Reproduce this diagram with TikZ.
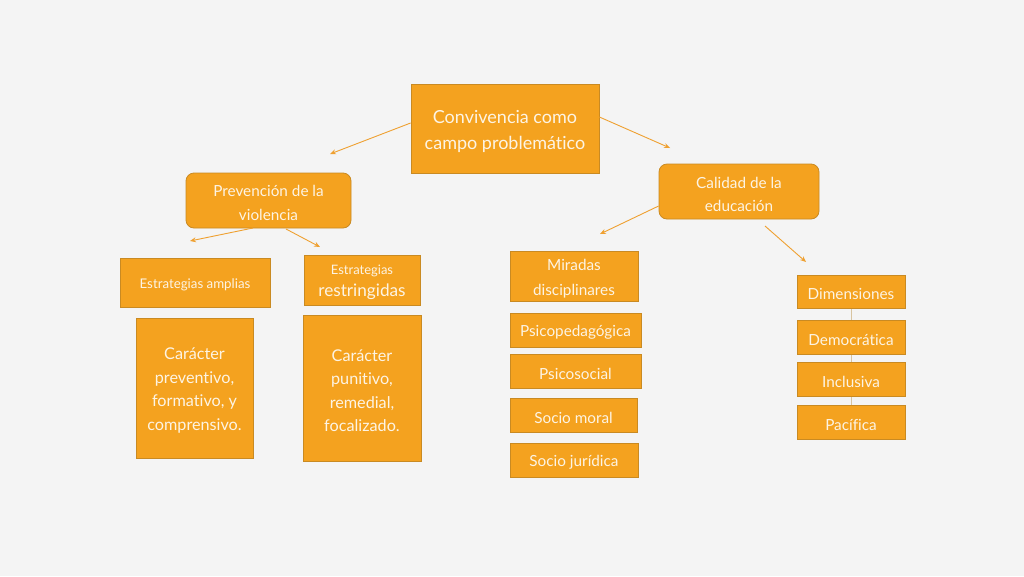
\documentclass[tikz,border=0pt]{standalone}
\usepackage{fontspec}
\setmainfont{Lato}[Ligatures={NoCommon}]
\usetikzlibrary{arrows.meta}
\definecolor{bgc}{HTML}{F4F4F4}
\definecolor{boxfill}{HTML}{F4A21F}
\definecolor{boxline}{HTML}{C98A22}
\definecolor{txt}{HTML}{FDF4E4}
\definecolor{arr}{HTML}{EFA030}
\definecolor{thinline}{HTML}{D8C4A0}
\begin{document}
\begin{tikzpicture}[x=1pt,y=-1pt,
  box/.style={draw=boxline, fill=boxfill, line width=0.8pt, inner sep=0pt, anchor=center},
  rbox/.style={box, rounded corners=8pt},
  lbl/.style={text=txt, inner sep=0pt, align=center, anchor=center, yshift=-2.5pt},
  conn/.style={draw=arr, line width=0.9pt, -{Stealth[length=6pt,width=5pt]}},
  link/.style={draw=thinline, line width=0.6pt}
]
\fill[bgc] (0,0) rectangle (1024,576);
\useasboundingbox (0,0) rectangle (1024,576);

% boxes
\node[box, minimum width=188pt, minimum height=89pt] (top) at (505,128.5) {};
\node[rbox, minimum width=165pt, minimum height=55pt] (prev) at (268.5,200.5) {};
\node[rbox, minimum width=160pt, minimum height=55pt] (cal) at (739,191.5) {};
\node[box, minimum width=150pt, minimum height=49pt] (amp) at (195,282.5) {};
\node[box, minimum width=116pt, minimum height=50pt] (res) at (362,280) {};
\node[box, minimum width=117pt, minimum height=140pt] (car1) at (194.5,388) {};
\node[box, minimum width=118pt, minimum height=146pt] (car2) at (362,388) {};
\node[box, minimum width=128pt, minimum height=50pt] (mir) at (574,276) {};
\node[box, minimum width=131pt, minimum height=34pt] (psp) at (575.5,330) {};
\node[box, minimum width=131pt, minimum height=34pt] (pss) at (575.5,371) {};
\node[box, minimum width=127pt, minimum height=34pt] (smo) at (573.5,415) {};
\node[box, minimum width=128pt, minimum height=34pt] (sju) at (574,460) {};

\draw[link] (851,308) -- (851,320);
\draw[link] (851,354) -- (851,362);
\draw[link] (851,396) -- (851,405);

\node[box, minimum width=108pt, minimum height=33pt] (dim) at (851,291.5) {};
\node[box, minimum width=108pt, minimum height=34pt] (dem) at (851,337) {};
\node[box, minimum width=108pt, minimum height=34pt] (inc) at (851,379) {};
\node[box, minimum width=108pt, minimum height=34pt] (pac) at (851,422) {};

% texts
\node[lbl, font=\fontsize{18}{26}\selectfont] (topt) at (top.center) {Convivencia como\\campo problemático};
\node[lbl, font=\fontsize{15.3}{24}\selectfont] (prevt) at (prev.center) {Prevención de la\\violencia};
\node[lbl, font=\fontsize{15.3}{23}\selectfont] (calt) at (cal.center) {Calidad de la\\educación};
\node[lbl, font=\fontsize{13.3}{15}\selectfont] (ampt) at (amp.center) {Estrategias amplias};
\node[lbl] (rest) at (res.center) {\fontsize{13}{15}\selectfont Estrategias\\[6pt]\fontsize{17.2}{19}\selectfont restringidas};
\node[lbl, font=\fontsize{16.2}{23.5}\selectfont] (car1t) at (car1.center) {Carácter\\preventivo,\\formativo, y\\comprensivo.};
\node[lbl, font=\fontsize{16.2}{23.5}\selectfont] (car2t) at (car2.center) {Carácter\\punitivo,\\remedial,\\focalizado.};
\node[lbl, font=\fontsize{15.3}{25}\selectfont] (mirt) at (mir.center) {Miradas\\disciplinares};
\node[lbl, font=\fontsize{15.3}{17}\selectfont] (pspt) at (psp.center) {Psicopedagógica};
\node[lbl, font=\fontsize{15.3}{17}\selectfont] (psst) at (pss.center) {Psicosocial};
\node[lbl, font=\fontsize{15.3}{17}\selectfont] (smot) at (smo.center) {Socio moral};
\node[lbl, font=\fontsize{15.3}{17}\selectfont] (sjut) at (sju.center) {Socio jurídica};
\node[lbl, font=\fontsize{15.3}{17}\selectfont] (dimt) at (dim.center) {Dimensiones};
\node[lbl, font=\fontsize{15.3}{17}\selectfont] (demt) at (dem.center) {Democrática};
\node[lbl, font=\fontsize{15.3}{17}\selectfont] (inct) at (inc.center) {Inclusiva};
\node[lbl, font=\fontsize{15.3}{17}\selectfont] (pact) at (pac.center) {Pacífica};

% arrows (free ends)
\coordinate (a1) at (330,154);
\coordinate (a2) at (670,148);
\coordinate (a3) at (190,241);
\coordinate (a4) at (320,247);
\coordinate (a5) at (600,234);
\coordinate (a6) at (806,262);

\draw[conn] (top.west |- 0,123) -- (a1);
\draw[conn] (top.east |- 0,117) -- (a2);
\draw[conn] (253,228) -- (a3);
\draw[conn] (286,229) -- (a4);
\draw[conn] (cal.west |- 0,206) -- (a5);
\draw[conn] (765,226) -- (a6);
\end{tikzpicture}
\end{document}
